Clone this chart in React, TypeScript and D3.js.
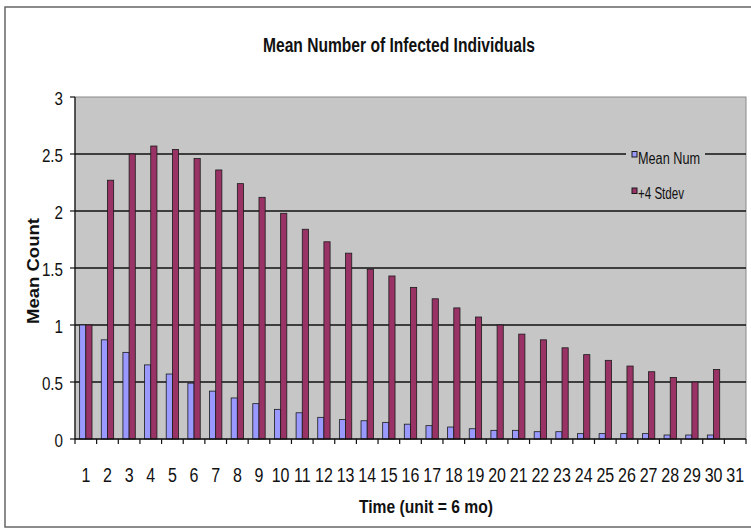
import React from "react";
import * as d3 from "d3";

const categories: string[] = Array.from({ length: 31 }, (_, i) => String(i + 1));
const meanNum: (number | null)[] = [
  1.0, 0.87, 0.76, 0.65, 0.57, 0.49, 0.42, 0.36, 0.31, 0.26, 0.23, 0.19, 0.17, 0.16,
  0.146, 0.13, 0.117, 0.105, 0.09, 0.076, 0.076, 0.064, 0.064, 0.047, 0.047, 0.047, 0.047,
  0.035, 0.035, 0.035, null,
];
const plus4Stdev: (number | null)[] = [
  1.0, 2.27, 2.5, 2.57, 2.54, 2.46, 2.36, 2.24, 2.12, 1.98, 1.84, 1.73, 1.63, 1.49,
  1.43, 1.33, 1.23, 1.15, 1.07, 1.0, 0.92, 0.87, 0.8, 0.74, 0.69, 0.64, 0.59, 0.54, 0.5, 0.61,
  null,
];
const yTicks: number[] = [0, 0.5, 1, 1.5, 2, 2.5, 3];
const seriesNames: string[] = ["Mean Num", "+4 Stdev"];
const seriesColors: string[] = ["#9999FF", "#993366"];

const W = 751;
const H = 531;
const PL = 75, PR = 746, PT = 97, PB = 439;
const FONT = "'Liberation Sans', Arial, sans-serif";
const SX = 0.8;

function NText(props: {
  x: number;
  y: number;
  anchor?: "start" | "middle" | "end";
  size: number;
  bold?: boolean;
  children: React.ReactNode;
}) {
  const { x, y, anchor = "start", size, bold, children } = props;
  return (
    <g transform={`translate(${x},${y}) scale(${SX},1)`}>
      <text x={0} y={0} textAnchor={anchor} fontFamily={FONT} fontSize={size} fontWeight={bold ? "bold" : "normal"} fill="#111">
        {children}
      </text>
    </g>
  );
}

export default function App() {
  const x = d3.scaleBand<string>().domain(categories).range([PL, PR]).paddingInner(0).paddingOuter(0);
  const y = d3.scaleLinear().domain([0, 3]).range([PB, PT]);
  const bw = x.bandwidth();
  const barW = bw / 3.5;
  const off = barW * 0.75;
  const series = [meanNum, plus4Stdev];

  return (
    <div style={{ position: "fixed", left: 0, top: 0 }}>
      <svg width={W} height={H} style={{ display: "block", background: "#fff" }}>
        {/* outer frame */}
        <rect x={5} y={7} width={780} height={520} fill="#fff" stroke="#666" strokeWidth={1.5} />
        {/* title */}
        <text
          x={263}
          y={52}
          textLength={272}
          lengthAdjust="spacingAndGlyphs"
          fontFamily={FONT}
          fontWeight="bold"
          fontSize={19.5}
          fill="#111"
        >
          Mean Number of Infected Individuals
        </text>
        {/* plot area */}
        <rect x={PL} y={PT} width={PR - PL} height={PB - PT} fill="#C6C6C6" stroke="#8a8a8a" strokeWidth={1} />
        {/* gridlines */}
        {yTicks.filter((t) => t > 0 && t < 3).map((t) => (
          <line key={"g" + t} x1={PL} x2={PR} y1={y(t)} y2={y(t)} stroke="#111" strokeWidth={1.5} />
        ))}
        {/* bars */}
        {series.map((s, si) =>
          s.map((v, i) =>
            v == null ? null : (
              <rect
                key={si + "-" + i}
                x={(x(categories[i]) as number) + off + si * barW}
                y={y(v)}
                width={barW}
                height={PB - y(v)}
                fill={seriesColors[si]}
                stroke="#1a1a1a"
                strokeWidth={0.8}
              />
            )
          )
        )}
        {/* y axis */}
        <line x1={PL} x2={PL} y1={PT} y2={PB} stroke="#111" strokeWidth={1.2} />
        {yTicks.map((t) => (
          <g key={"y" + t}>
            <line x1={PL - 5} x2={PL} y1={y(t)} y2={y(t)} stroke="#111" strokeWidth={1.2} />
            <NText x={63} y={y(t) + 7.5} anchor="end" size={19}>
              {String(t)}
            </NText>
          </g>
        ))}
        {/* x axis */}
        <line x1={PL} x2={PR} y1={PB} y2={PB} stroke="#111" strokeWidth={1.5} />
        {categories.map((c, i) => (
          <line key={"xt" + c} x1={PL + i * bw} x2={PL + i * bw} y1={PB} y2={PB + 5} stroke="#111" strokeWidth={1.2} />
        ))}
        <line x1={PR} x2={PR} y1={PB} y2={PB + 5} stroke="#111" strokeWidth={1.2} />
        {categories.map((c) => (
          <NText key={"xl" + c} x={(x(c) as number) + bw / 2} y={482} anchor="middle" size={20}>
            {c}
          </NText>
        ))}
        {/* axis titles */}
        <text
          x={359}
          y={513}
          textLength={134}
          lengthAdjust="spacingAndGlyphs"
          fontFamily={FONT}
          fontWeight="bold"
          fontSize={18}
          fill="#111"
        >
          Time (unit = 6 mo)
        </text>
        <text
          transform={`translate(39,271) rotate(-90)`}
          textAnchor="middle"
          textLength={106}
          lengthAdjust="spacingAndGlyphs"
          fontFamily={FONT}
          fontWeight="bold"
          fontSize={17}
          fill="#111"
        >
          Mean Count
        </text>
        {/* legend */}
        <rect x={626} y={145} width={79} height={58} fill="#C6C6C6" />
        {seriesNames.map((n, i) => (
          <g key={"lg" + n}>
            <rect x={632} y={151.5 + i * 36.5} width={5} height={5.5} fill={seriesColors[i]} stroke="#1a1a1a" strokeWidth={1} />
            <text
              x={638}
              y={164 + i * 35}
              textLength={i === 0 ? 62 : 46}
              lengthAdjust="spacingAndGlyphs"
              fontFamily={FONT}
              fontSize={16}
              fill="#111"
            >
              {n}
            </text>
          </g>
        ))}
      </svg>
    </div>
  );
}
